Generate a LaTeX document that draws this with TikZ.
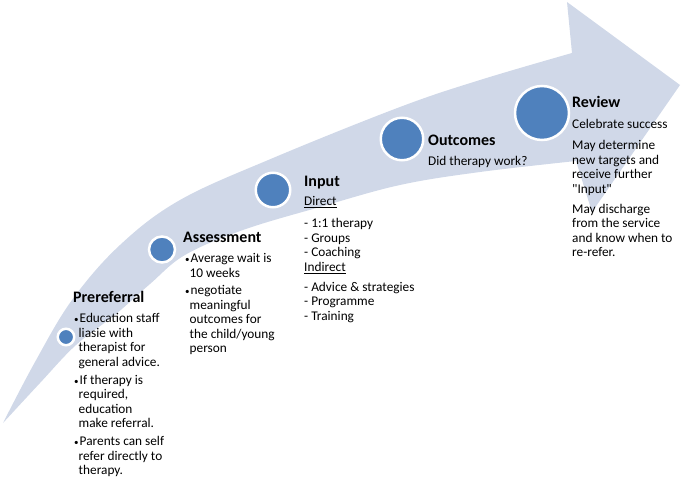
\documentclass[tikz,border=0pt]{standalone}
\usepackage{fontspec}
\setmainfont{Carlito}
\definecolor{SwooshGray}{HTML}{D0D8E8}
\definecolor{DotBlue}{HTML}{4F81BD}
\newcommand{\bpt}{\makebox[5.5pt][l]{\fontsize{9}{9}\selectfont\textbullet}}
\newcommand{\bcont}{\hspace*{4.5pt}}
\tikzset{
  swoosh/.style={fill=SwooshGray, draw=none},
  dot/.style={circle, fill=DotBlue, draw=white, line width=2.5pt, inner sep=0pt},
  stagetitle/.style={anchor=base west, inner sep=0pt, font=\fontsize{16}{19}\selectfont\bfseries},
  stagetext/.style={anchor=north west, inner sep=0pt, align=left, font=\fontsize{13.3}{14.5}\selectfont, execute at begin node=\strut}
}

\begin{document}
\begin{tikzpicture}[x=1pt, y=-1pt]
\useasboundingbox (0,0) rectangle (687,486);
\fill[swoosh] plot[smooth, tension=0.6] coordinates {(3,423) (35,362) (72,300) (120,245) (180,200) (273,158) (400,107) (480,80) (572,53)}
  -- (567,2) -- (680,85) -- (592,212) -- (576,161)
  -- plot[smooth, tension=0.6] coordinates {(576,161) (480,172) (400,185) (320,207) (243,230) (185,255) (150,284) (116,314) (76,345) (40,383) (3,423)} -- cycle;

\node[dot, minimum size=16.5pt] (prereferral) at (66,337) {};
\node[dot, minimum size=26pt] (assessment) at (162,249.5) {};
\node[dot, minimum size=34.5pt] (input) at (273,190) {};
\node[dot, minimum size=42.5pt] (outcomes) at (402,139) {};
\node[dot, minimum size=54pt] (review) at (542,113) {};

% first baselines minus strut height
\node[stagetitle] (prereferraltitle) at (73,302) {Prereferral};
\node[stagetext] (prereferraltext) at (74,313.4) {\bpt Education staff\\ \bcont liasie with\\ \bcont therapist for\\ \bcont general advice.\\[3.5pt]
  \bpt If therapy is\\ \bcont required,\\ \bcont education\\ \bcont make referral.\\[3.5pt]
  \bpt Parents can self\\ \bcont refer directly to\\ \bcont therapy.};

\node[stagetitle] (assessmenttitle) at (183,242) {Assessment};
\node[stagetext] (assessmenttext) at (185,253.4) {\bpt Average wait is\\ \bcont 10 weeks\\[3pt]
  \bpt negotiate\\ \bcont meaningful\\ \bcont outcomes for\\ \bcont the child/young\\ \bcont person};

\node[stagetitle] (inputtitle) at (304,187) {Input};
\node[stagetext] (inputtext) at (304,196.4) {\underline{Direct}\\[7.5pt]
  - 1:1 therapy\\ - Groups\\ - Coaching\\ \underline{Indirect}\\[5.5pt]
  - Advice \& strategies\\ - Programme\\ - Training};

\node[stagetitle] (outcomestitle) at (428,146) {Outcomes};
\node[stagetext] (outcomestext) at (428,155.4) {Did therapy work?};

\node[stagetitle] (reviewtitle) at (572,108) {Review};
\node[stagetext] (reviewtext) at (572,119.4) {Celebrate success\\[6.5pt]
  May determine\\ new targets and\\ receive further\\ \textquotedbl Input\textquotedbl\\[5.5pt]
  May discharge\\ from the service\\ and know when to\\ re-refer.};
\end{tikzpicture}
\end{document}
